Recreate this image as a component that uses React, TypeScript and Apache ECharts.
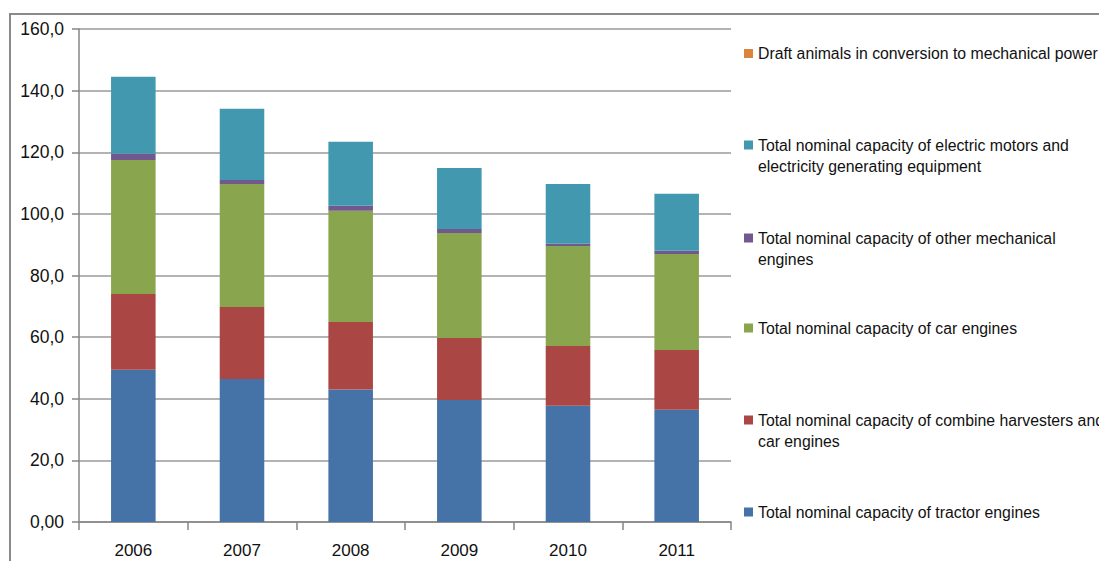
import React, { useEffect, useRef } from "react";
import * as echarts from "echarts";

// Years on the category axis
const years = ["2006", "2007", "2008", "2009", "2010", "2011"];

// Stacked components, bottom to top
const tractorEngines = [49.4, 46.4, 43.0, 39.6, 37.7, 36.4];
const combineHarvesters = [24.6, 23.4, 21.9, 20.1, 19.4, 19.4];
const carEngines = [43.5, 39.9, 36.1, 34.1, 32.5, 31.2];
const otherMechanical = [2.0, 1.3, 1.6, 1.3, 0.7, 1.0];
const electricMotors = [25.0, 23.1, 20.8, 19.8, 19.4, 18.5];
const draftAnimals = [0, 0, 0, 0, 0, 0];

// Value axis tick settings
const yMin = 0;
const yMax = 160;
const yStep = 20;

const seriesDefs = [
  { name: "Total nominal capacity of tractor engines", lines: ["Total nominal capacity of tractor engines"], data: tractorEngines, color: "#4572A7", cy: 512 },
  { name: "Total nominal capacity of combine harvesters and car engines", lines: ["Total nominal capacity of combine harvesters and", "car engines"], data: combineHarvesters, color: "#AA4643", cy: 420 },
  { name: "Total nominal capacity of car engines", lines: ["Total nominal capacity of car engines"], data: carEngines, color: "#89A54E", cy: 328 },
  { name: "Total nominal capacity of other mechanical engines", lines: ["Total nominal capacity of other mechanical", "engines"], data: otherMechanical, color: "#71588F", cy: 238 },
  { name: "Total nominal capacity of electric motors and electricity generating equipment", lines: ["Total nominal capacity of electric motors and", "electricity generating equipment"], data: electricMotors, color: "#4198AF", cy: 145 },
  { name: "Draft animals in conversion to mechanical power", lines: ["Draft animals in conversion to mechanical power"], data: draftAnimals, color: "#DB843D", cy: 53.5 },
];

const FONT = "'Liberation Sans', Arial, sans-serif";
const LINE_H = 21;

export default function App() {
  const ref = useRef<HTMLDivElement>(null);

  useEffect(() => {
    if (!ref.current) return;
    const chart = echarts.init(ref.current, undefined, { renderer: "svg" });

    // One legend per entry so each can sit at its own height; wrapped entries
    // get an empty leading line so the swatch lines up with their first line.
    const legends = seriesDefs.map((s) => {
      const twoLine = s.lines.length > 1;
      return {
        data: [s.name],
        orient: "vertical" as const,
        left: 744,
        top: twoLine ? s.cy - LINE_H * 1.5 : s.cy - LINE_H / 2,
        padding: 0,
        icon: "rect",
        itemWidth: 9,
        itemHeight: 9,
        selectedMode: false,
        formatter: () => (twoLine ? "\n" + s.lines.join("\n") : s.lines[0]),
        textStyle: {
          fontFamily: FONT,
          fontSize: 15.8,
          color: "#111",
          lineHeight: LINE_H,
        },
      };
    });

    chart.setOption({
      animation: false,
      backgroundColor: "#ffffff",
      graphic: [
        {
          type: "rect",
          shape: { x: 10, y: 14, width: 1200, height: 600 },
          style: { fill: "none", stroke: "#8a8a8a", lineWidth: 2 },
          silent: true,
        },
      ],
      grid: { left: 79, top: 29, right: 368, bottom: 39, containLabel: false },
      legend: legends,
      xAxis: {
        type: "category",
        data: years,
        axisLine: { show: true, lineStyle: { color: "#868686", width: 1.5 } },
        axisTick: { show: true, interval: 0, length: 8, lineStyle: { color: "#868686", width: 1.5 } },
        axisLabel: { fontFamily: FONT, fontSize: 17, color: "#111", margin: 20 },
      },
      yAxis: {
        type: "value",
        min: yMin,
        max: yMax,
        interval: yStep,
        axisLine: { show: true, lineStyle: { color: "#868686", width: 1.5 } },
        axisTick: { show: true, length: 7, lineStyle: { color: "#868686", width: 1.5 } },
        splitLine: { show: true, lineStyle: { color: "#9a9a9a", width: 1.5 } },
        axisLabel: {
          fontFamily: FONT,
          fontSize: 17.5,
          color: "#111",
          margin: 15,
          formatter: (v: number) => (v === 0 ? "0,00" : v.toFixed(1).replace(".", ",")),
        },
      },
      series: seriesDefs.map((s) => ({
        name: s.name,
        type: "bar",
        stack: "total",
        barWidth: "41%",
        data: s.data,
        itemStyle: { color: s.color },
        emphasis: { disabled: true },
      })),
    });

    return () => chart.dispose();
  }, []);

  return (
    <div
      ref={ref}
      style={{ position: "fixed", left: 0, top: 0, width: 1099, height: 561, background: "#fff" }}
    />
  );
}
